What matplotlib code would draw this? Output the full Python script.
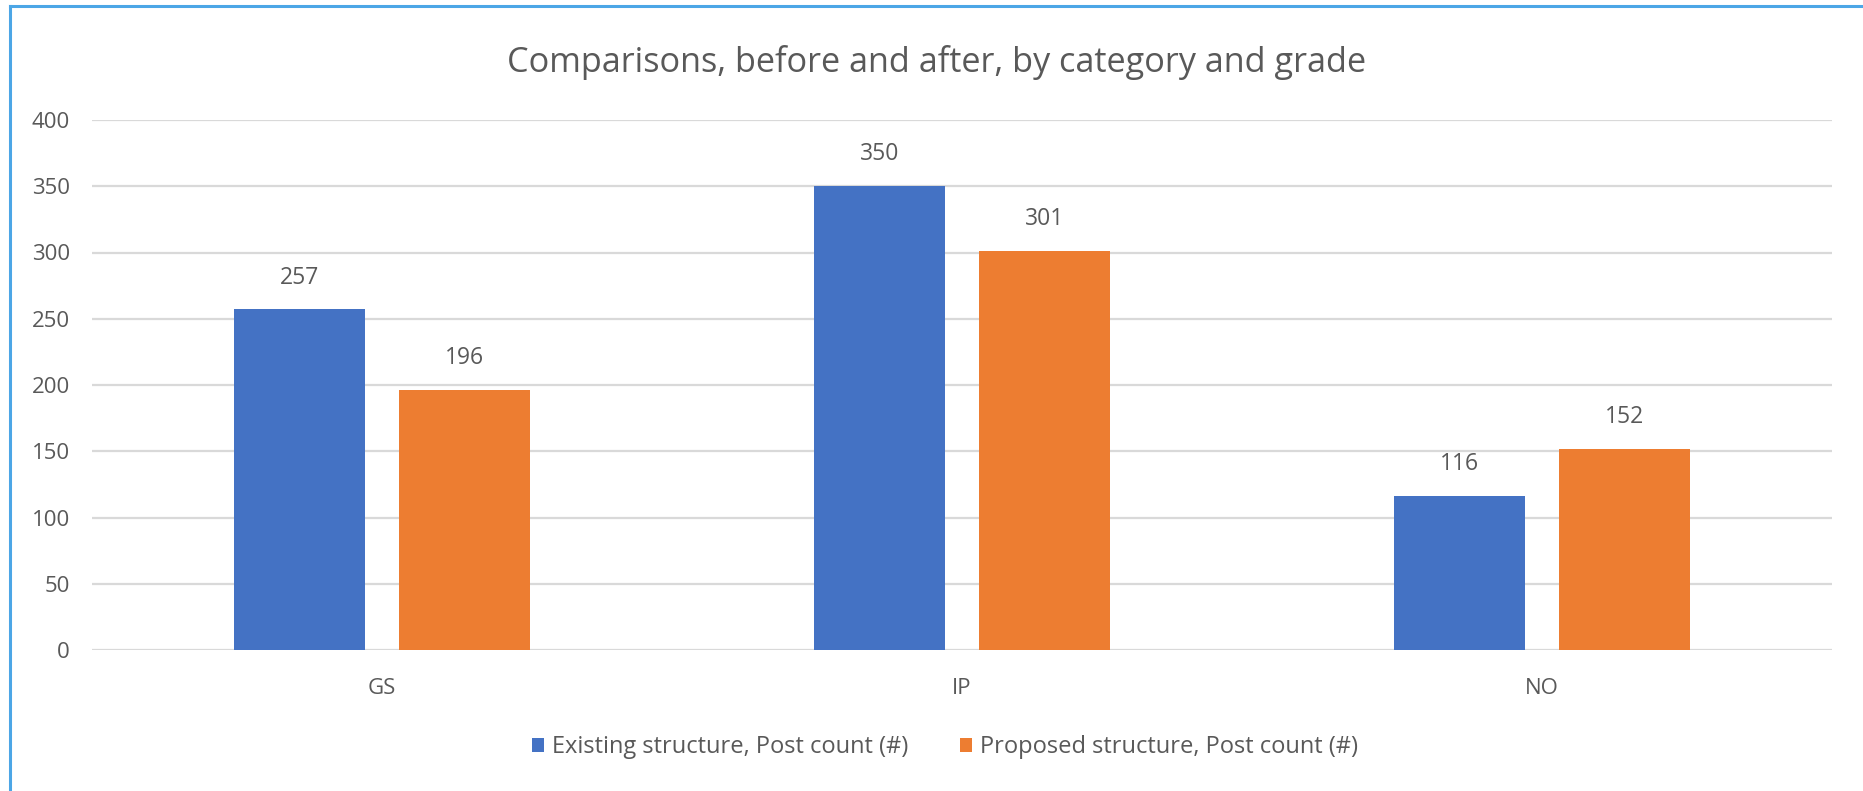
import numpy as np
import matplotlib.pyplot as plt
from matplotlib.lines import Line2D
from matplotlib.patches import Patch

categories = ["GS", "IP", "NO"]
existing = [257, 350, 116]
proposed = [196, 301, 152]
series_names = ["Existing structure, Post count (#)", "Proposed structure, Post count (#)"]
title = "Comparisons, before and after, by category and grade"
yticks = [0, 50, 100, 150, 200, 250, 300, 350, 400]

blue = "#4472C4"
orange = "#ED7D31"
text_col = "#595959"
grid_col = "#D9D9D9"

plt.rcParams["font.family"] = ["Open Sans", "DejaVu Sans"]

W, H = 1863, 791
fig = plt.figure(figsize=(W / 100, H / 100), dpi=100)
fig.patch.set_facecolor("white")

# plot area in pixels
left, right, top, bottom = 92, 1832, 120, 650
ax = fig.add_axes([left / W, 1 - bottom / H, (right - left) / W, (bottom - top) / H])

x = np.arange(len(categories))
width = 0.226
off = 0.142
b1 = ax.bar(x - off, existing, width, color=blue, zorder=3)
b2 = ax.bar(x + off, proposed, width, color=orange, zorder=3)

for bars, vals in ((b1, existing), (b2, proposed)):
    for rect, v in zip(bars, vals):
        ax.annotate(str(v), (rect.get_x() + rect.get_width() / 2, v),
                    xytext=(0, 23), textcoords="offset points",
                    ha="center", va="center", fontsize=16.5, color=text_col)

ax.set_xlim(-0.5, 2.5)
ax.set_ylim(0, 400)
ax.set_yticks(yticks)
ax.set_xticks(x)
ax.set_xticklabels(categories)
ax.tick_params(axis="both", length=0, labelsize=16, labelcolor=text_col)
ax.tick_params(axis="y", pad=16)
ax.tick_params(axis="x", pad=20)
ax.yaxis.grid(True, color=grid_col, linewidth=1.6, zorder=0)
for s in ax.spines.values():
    s.set_visible(False)

fig.text(937 / W, 1 - 63 / H, title, ha="center", va="center",
         fontsize=24.7, color=text_col)

handles = [Patch(facecolor=blue), Patch(facecolor=orange)]
fig.legend(handles, series_names, loc="center", bbox_to_anchor=(945 / W, 1 - 747 / H),
           ncol=2, frameon=False, fontsize=17, labelcolor=text_col,
           handlelength=0.5, handleheight=0.55, handletextpad=0.35,
           columnspacing=2.2)

# blue frame on the top and left edges
border = "#4CA6E6"
fig.add_artist(Line2D([10 / W, 1], [1 - 6 / H, 1 - 6 / H], color=border, linewidth=2.2,
                      transform=fig.transFigure))
fig.add_artist(Line2D([10 / W, 10 / W], [0, 1 - 6 / H], color=border, linewidth=2.2,
                      transform=fig.transFigure))

fig.savefig("out.png", dpi=100)
